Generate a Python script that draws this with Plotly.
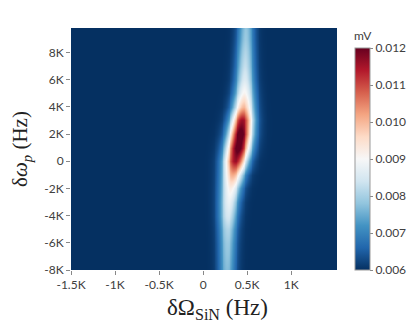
import numpy as np
import plotly.graph_objects as go

# Row-wise readings of the band (y in Hz)
row_y = [-8000, -7000, -6000, -5000, -4000, -3000, -2000, -1000, 0, 1000,
         2000, 3000, 4000, 5000, 6000, 7000, 8000, 9000, 10000]
row_center = [268, 270, 272, 275, 280, 290, 308, 333, 363, 393,
              420, 440, 455, 465, 470, 473, 476, 479, 482]
row_peak = [0.0077, 0.0078, 0.0079, 0.0081, 0.0085, 0.0088, 0.0092, 0.0101, 0.0116, 0.0123,
            0.0123, 0.0116, 0.0100, 0.0091, 0.0086, 0.0083, 0.0081, 0.0079, 0.0078]
row_sigma = [68, 69, 70, 72, 75, 78, 83, 88, 94, 96,
             94, 90, 85, 80, 75, 72, 70, 68, 66]
baseline = 0.006

x_cols = np.arange(-1500, 1530, 10)
z = [(baseline + (p - baseline) * np.exp(-0.5 * ((x_cols - c) / s) ** 2)).tolist()
     for c, p, s in zip(row_center, row_peak, row_sigma)]

x_tickvals = [-1500, -1000, -500, 0, 500, 1000]
x_ticktext = ['-1.5K', '-1K', '-0.5K', '0', '0.5K', '1K']
y_tickvals = [-8000, -6000, -4000, -2000, 0, 2000, 4000, 6000, 8000]
y_ticktext = ['-8K', '-6K', '-4K', '-2K', '0', '2K', '4K', '6K', '8K']
cb_vals = [0.006, 0.007, 0.008, 0.009, 0.010, 0.011, 0.012]
cb_text = ['0.006', '0.007', '0.008', '0.009', '0.010', '0.011', '0.012']

colorscale = [
    [0.0, '#053061'], [0.1, '#2166ac'], [0.2, '#4393c3'], [0.3, '#92c5de'],
    [0.4, '#d1e5f0'], [0.5, '#f7f7f7'], [0.6, '#fddbc7'], [0.7, '#f4a582'],
    [0.8, '#d6604d'], [0.9, '#b2182b'], [1.0, '#67001f'],
]

tickfont = dict(family='Lato', size=12, color='#404040')

fig = go.Figure(go.Heatmap(
    x=x_cols, y=row_y, z=z, zmin=0.006, zmax=0.012,
    colorscale=colorscale, zsmooth='best',
    colorbar=dict(
        x=1.066, xanchor='left', xpad=0, ypad=0,
        y=0, yanchor='bottom', len=1, lenmode='fraction',
        thickness=15, outlinecolor='#999999', outlinewidth=1,
        ticks='outside', ticklen=3, tickcolor='#888888',
        tickvals=cb_vals, ticktext=cb_text, tickfont=tickfont,
        title=dict(text='mV', side='top', font=dict(family='Lato', size=12, color='#404040')),
    ),
))

fig.update_layout(
    width=419, height=324,
    margin=dict(l=71, r=73, t=28, b=54),
    paper_bgcolor='white', plot_bgcolor='white',
    xaxis=dict(
        range=[-1500, 1520], tickvals=x_tickvals, ticktext=x_ticktext,
        ticks='outside', ticklen=4, tickcolor='#888888', tickfont=tickfont,
        showgrid=False, zeroline=False, showline=False,
    ),
    yaxis=dict(
        range=[-8000, 9800], tickvals=y_tickvals, ticktext=y_ticktext,
        ticks='outside', ticklen=4, tickcolor='#888888', tickfont=tickfont,
        showgrid=False, zeroline=False, showline=False,
        title=dict(text='δ<i>ω</i><sub><i>p</i></sub> (Hz)', standoff=10,
                   font=dict(family='Liberation Serif', size=21, color='#222222')),
    ),
    annotations=[dict(
        text='δΩ<sub>SiN</sub> (Hz)', xref='paper', yref='paper',
        x=0.55, y=-0.095, xanchor='center', yanchor='top', showarrow=False,
        font=dict(family='Liberation Serif', size=23, color='#222222'),
    )],
)

fig.write_html('out.html')
